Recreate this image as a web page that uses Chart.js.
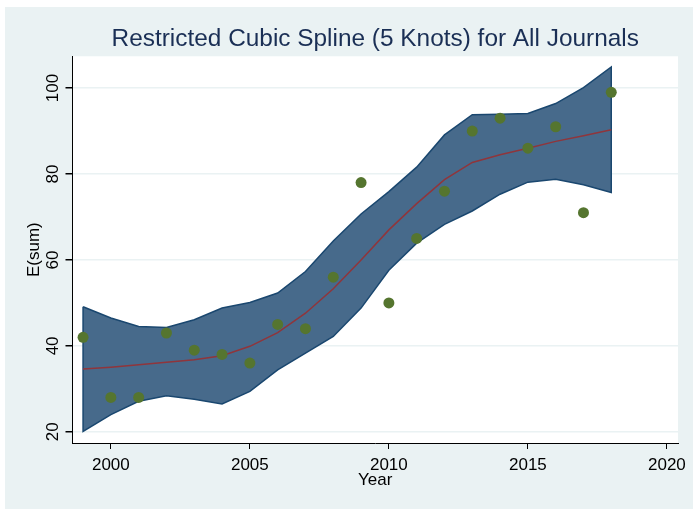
<!DOCTYPE html>
<html>
<head>
<meta charset="utf-8">
<script src="https://cdn.jsdelivr.net/npm/chart.js@4.4.1/dist/chart.umd.min.js"></script>
<style>
  body { margin: 0; background: #fff; }
  canvas { display: block; }
</style>
</head>
<body>
<canvas id="myChart" width="693" height="509"></canvas>
<script>
const years = [1999, 2000, 2001, 2002, 2003, 2004, 2005, 2006, 2007, 2008,
  2009, 2010, 2011, 2012, 2013, 2014, 2015, 2016, 2017, 2018];
const observed = [42, 28, 28, 43, 39, 38, 36, 45, 44, 56,
  78, 50, 65, 76, 90, 93, 86, 91, 71, 99];
const fitted = [34.6, 35.05, 35.6, 36.2, 36.8, 37.7, 39.9, 43.1, 47.6, 53.3,
  60.0, 67.0, 73.1, 78.7, 82.7, 84.5, 86.0, 87.6, 88.9, 90.3];
const upperCI = [49.1, 46.5, 44.5, 44.3, 46.1, 48.8, 50.1, 52.3, 57.3, 64.4,
  70.7, 75.9, 81.6, 89.1, 93.8, 93.9, 94.1, 96.4, 100.1, 104.9];
const lowerCI = [20.1, 24.0, 27.1, 28.4, 27.6, 26.5, 29.4, 34.4, 38.3, 42.2,
  48.8, 57.6, 63.9, 68.3, 71.4, 75.3, 78.1, 78.8, 77.5, 75.7];
const xTicks = [2000, 2005, 2010, 2015, 2020];
const yTicks = [20, 40, 60, 80, 100];

// band polygon: along upper CI, back along lower CI, closed
const band = years.map((y, i) => ({ x: y, y: upperCI[i] }))
  .concat(years.map((y, i) => ({ x: y, y: lowerCI[i] })).reverse());
band.push(band[0]);

const bgPlugin = {
  id: "bg",
  beforeDraw(chart) {
    const { ctx, chartArea } = chart;
    ctx.save();
    ctx.fillStyle = "#ffffff";
    ctx.fillRect(0, 0, chart.width, chart.height);
    ctx.fillStyle = "#eaf2f3";
    ctx.fillRect(5, 7, chart.width - 5, chart.height - 7);
    ctx.fillStyle = "#ffffff";
    ctx.fillRect(chartArea.left, chartArea.top, chartArea.right - chartArea.left, chartArea.bottom - chartArea.top);
    ctx.restore();
  },
};

const font = "'Liberation Sans', Arial, sans-serif";

new Chart(document.getElementById("myChart"), {
  type: "scatter",
  data: {
    datasets: [
      {
        label: "E(sum)",
        data: years.map((y, i) => ({ x: y, y: observed[i] })),
        backgroundColor: "#55752f",
        pointRadius: 5.5,
        pointBorderWidth: 0,
        order: 0,
      },
      {
        label: "fit",
        type: "line",
        data: years.map((y, i) => ({ x: y, y: fitted[i] })),
        borderColor: "#90353b",
        borderWidth: 1.5,
        pointRadius: 0,
        tension: 0,
        fill: false,
        order: 1,
      },
      {
        label: "95% CI",
        type: "line",
        data: band,
        borderColor: "#1a476f",
        borderWidth: 1.5,
        backgroundColor: "#476a8b",
        pointRadius: 0,
        tension: 0,
        fill: "shape",
        order: 2,
      },
    ],
  },
  options: {
    responsive: false,
    animation: false,
    layout: { padding: { top: 7, right: 15, left: 0, bottom: 0 } },
    plugins: {
      legend: { display: false },
      tooltip: { enabled: false },
      title: {
        display: true,
        fullSize: false,
        text: "Restricted Cubic Spline (5 Knots) for All Journals",
        color: "#1a2f55",
        font: { size: 24.4, family: font, weight: "normal" },
        padding: { top: 18, bottom: 2 },
      },
    },
    scales: {
      x: {
        type: "linear",
        min: 1998.62,
        max: 2020.4,
        afterBuildTicks: (s) => { s.ticks = xTicks.map((v) => ({ value: v })); },
        afterFit: (s) => { s.height = 66; },
        grid: { drawOnChartArea: false, tickColor: "#000", tickLength: 6 },
        border: { color: "#000", width: 1 },
        ticks: {
          color: "#000",
          font: { size: 17, family: font },
          padding: 6,
          maxRotation: 0,
          callback: (v) => String(v),
        },
        title: {
          display: true,
          text: "Year",
          color: "#000",
          font: { size: 17, family: font },
          padding: { top: 0, bottom: 18 },
        },
      },
      y: {
        min: 17.4,
        max: 107.4,
        afterBuildTicks: (s) => { s.ticks = yTicks.map((v) => ({ value: v })); },
        afterFit: (s) => { s.width = 72.5; },
        grid: { color: "#eaf2f3", lineWidth: 1.5, tickColor: "#000", tickLength: 7 },
        border: { color: "#000", width: 1 },
        ticks: {
          color: "#000",
          font: { size: 17, family: font },
          minRotation: 90,
          maxRotation: 90,
          crossAlign: "center",
          padding: -2,
          callback: (v) => String(v),
        },
        title: {
          display: true,
          text: "E(sum)",
          color: "#000",
          font: { size: 17, family: font },
          padding: { top: 24, bottom: 0 },
        },
      },
    },
  },
  plugins: [bgPlugin],
});
</script>
</body>
</html>
